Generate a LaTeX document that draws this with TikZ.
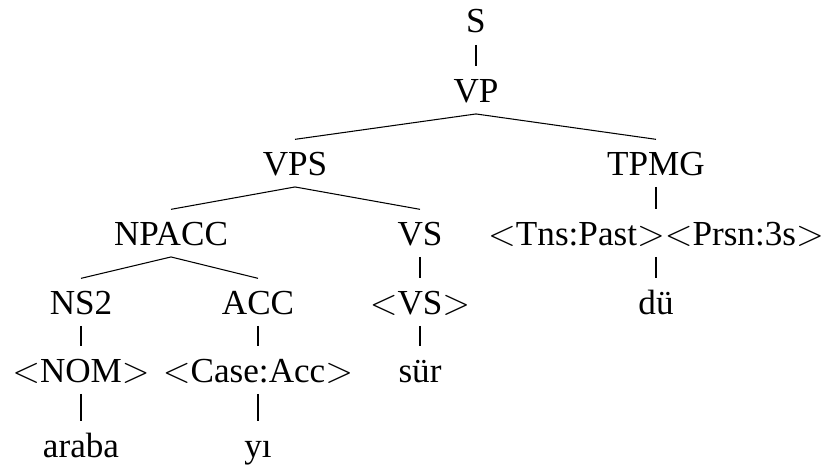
\documentclass[tikz,border=0pt]{standalone}
\usepackage{fontspec}
\setmainfont{Liberation Serif}
\usetikzlibrary{positioning}

\begin{document}
\begin{tikzpicture}[x=0.02cm, y=-0.02cm, line width=0.6pt,
    cat/.style={anchor=base, inner xsep=1pt, inner ysep=6.5pt, text height=13.5pt, text depth=0pt,
                font=\fontsize{20}{24}\selectfont}]
    \useasboundingbox (0,0) rectangle (830,466);

    % tree levels, placed at the baseline of each row
    \node[cat] (s)     at (476,33)  {S};
    \node[cat] (vp)    at (476,102) {VP};
    \node[cat] (vps)   at (295,175) {VPS};
    \node[cat] (tpmg)  at (656,175) {TPMG};
    \node[cat] (npacc) at (171,245) {NPACC};
    \node[cat] (vs)    at (420,245) {VS};
    \node[cat] (tns)   at (656,245) {$<$Tns:Past$>$$<$Prsn:3s$>$};
    \node[cat] (ns2)   at (81,314)  {NS2};
    \node[cat] (acc)   at (258,314) {ACC};
    \node[cat] (vsf)   at (420,314) {$<$VS$>$};
    \node[cat] (du)    at (656,314) {dü};
    \node[cat] (nom)   at (81,382)  {$<$NOM$>$};
    \node[cat] (case)  at (258,382) {$<$Case:Acc$>$};
    \node[cat] (sur)   at (420,382) {sür};
    \node[cat] (araba) at (81,457)  {araba};
    \node[cat] (yi)    at (258,457) {yı};

    \draw (s.south) -- (vp.north);
    \draw (vp.south) -- (vps.north);
    \draw (vp.south) -- (tpmg.north);
    \draw (vps.south) -- (npacc.north);
    \draw (vps.south) -- (vs.north);
    \draw (tpmg.south) -- (tns.north);
    \draw (npacc.south) -- (ns2.north);
    \draw (npacc.south) -- (acc.north);
    \draw (vs.south) -- (vsf.north);
    \draw (tns.south) -- (du.north);
    \draw (ns2.south) -- (nom.north);
    \draw (acc.south) -- (case.north);
    \draw (vsf.south) -- (sur.north);
    \draw (nom.south) -- (araba.north);
    \draw (case.south) -- (yi.north);
\end{tikzpicture}
\end{document}
